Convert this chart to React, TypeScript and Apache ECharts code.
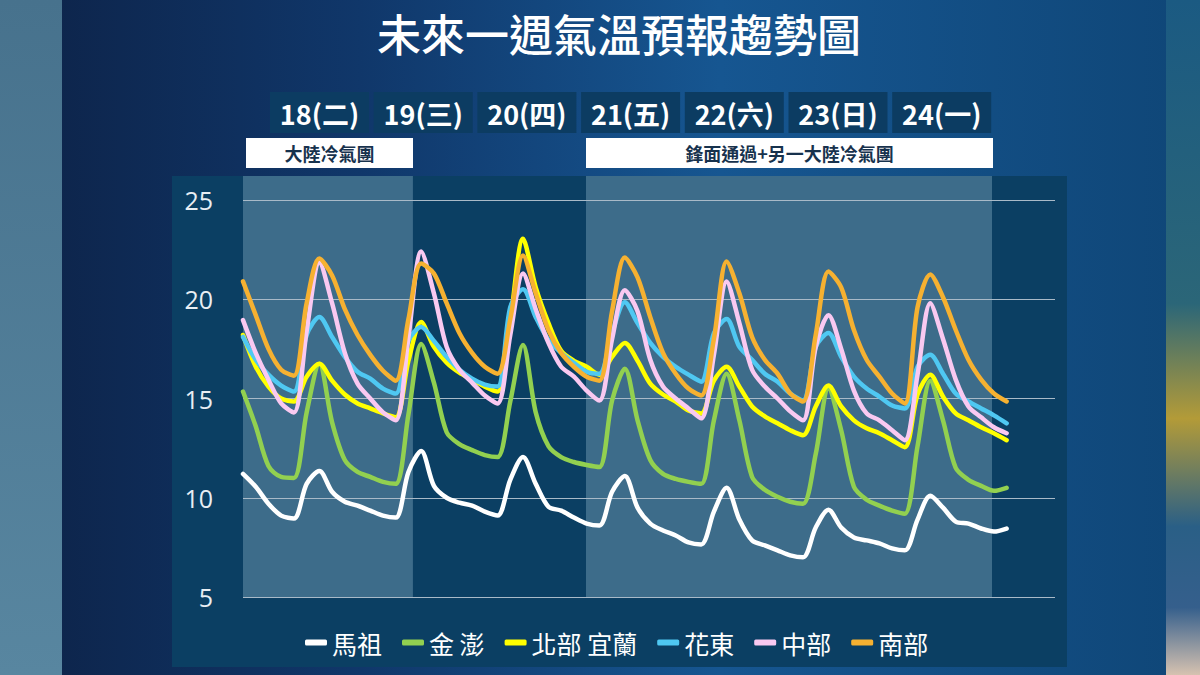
import * as echarts from "echarts";
import { useEffect, useRef } from "react";

// 3-hourly forecast steps, 61 points (18th evening .. 24th evening)
const maZu = [
  11.2, 10.55, 9.7, 9.1, 8.95, 10.7, 11.35, 10.3, 9.8, 9.6,
  9.35, 9.1, 9.0, 11.3, 12.35, 10.6, 10.0, 9.75, 9.6, 9.3,
  9.1, 10.9, 12.05, 10.7, 9.55, 9.35, 9.0, 8.7, 8.6, 10.3,
  11.1, 9.5, 8.7, 8.35, 8.1, 7.75, 7.65, 9.3, 10.5, 8.9,
  7.85, 7.6, 7.35, 7.1, 7.0, 8.5, 9.4, 8.5, 8.0, 7.85,
  7.7, 7.45, 7.35, 8.9, 10.1, 9.5, 8.8, 8.7, 8.45, 8.3, 8.45,
];
const kinPeng = [
  15.35, 13.6, 11.6, 11.05, 11.0, 14.3, 16.75, 13.8, 11.9, 11.3,
  11.05, 10.8, 10.7, 14.2, 17.75, 15.8, 13.3, 12.7, 12.4, 12.15,
  12.05, 14.85, 17.7, 14.3, 12.6, 12.05, 11.8, 11.65, 11.55, 14.9,
  16.5, 13.9, 11.9, 11.2, 10.95, 10.8, 10.7, 13.9, 16.25, 13.9,
  11.05, 10.4, 10.05, 9.8, 9.7, 12.2, 15.5, 13.4, 10.55, 9.9,
  9.6, 9.35, 9.2, 12.6, 15.9, 13.9, 11.5, 10.9, 10.6, 10.35, 10.5,
];
const north = [
  18.2, 16.6, 15.6, 15.0, 14.85, 16.1, 16.75, 15.9, 15.2, 14.75,
  14.5, 14.25, 14.05, 16.9, 18.85, 17.6, 16.8, 16.3, 15.95, 15.6,
  15.35, 18.9, 23.05, 20.6, 18.8, 17.4, 16.9, 16.6, 16.2, 17.1,
  17.8, 16.9, 15.75, 15.2, 14.85, 14.4, 14.25, 15.9, 16.6, 15.6,
  14.6, 14.1, 13.75, 13.4, 13.15, 14.6, 15.65, 14.6, 13.9, 13.5,
  13.25, 12.9, 12.55, 15.2, 16.2, 15.1, 14.25, 13.9, 13.55, 13.25, 12.9,
];
const east = [
  18.1, 16.95, 16.2, 15.65, 15.35, 18.2, 19.1, 18.1, 17.1, 16.35,
  16.0, 15.5, 15.25, 17.9, 18.6, 17.9, 17.1, 16.45, 16.0, 15.7,
  15.6, 19.6, 20.5, 19.1, 17.95, 17.3, 16.8, 16.35, 16.25, 18.3,
  19.85, 18.8, 17.8, 17.1, 16.6, 16.2, 15.85, 18.3, 19.0, 17.6,
  16.95, 16.25, 15.85, 15.25, 14.9, 17.6, 18.3, 17.1, 16.1, 15.5,
  15.1, 14.65, 14.5, 16.6, 17.2, 16.25, 15.25, 14.85, 14.5, 14.15, 13.75,
];
const central = [
  18.95, 17.3, 15.95, 14.75, 14.3, 18.4, 21.85, 19.8, 17.3, 15.75,
  15.0, 14.3, 13.9, 18.1, 22.4, 20.3, 17.6, 16.45, 15.8, 15.15,
  14.75, 18.2, 21.3, 19.5, 17.8, 16.6, 16.1, 15.4, 14.9, 18.0,
  20.45, 19.4, 16.95, 15.6, 15.0, 14.5, 14.0, 17.2, 20.9, 18.8,
  16.45, 15.6, 15.0, 14.35, 13.9, 17.6, 19.2, 17.5, 15.4, 14.25,
  13.9, 13.4, 12.9, 16.2, 19.8, 18.0, 15.95, 14.6, 14.05, 13.55, 13.25,
];
const south = [
  20.9, 19.2, 17.5, 16.45, 16.15, 19.8, 22.05, 21.2, 19.5, 18.2,
  17.2, 16.4, 15.9, 19.0, 21.8, 21.3, 19.8, 18.3, 17.3, 16.6,
  16.25, 19.0, 22.2, 20.3, 18.45, 17.3, 16.6, 16.1, 15.9, 19.4,
  22.1, 21.1, 19.1, 17.3, 16.25, 15.5, 15.15, 18.0, 21.9, 20.3,
  18.1, 16.95, 16.25, 15.25, 14.85, 18.2, 21.4, 20.6, 18.45, 16.95,
  16.1, 15.25, 14.75, 19.6, 21.25, 20.1, 18.45, 16.95, 15.95, 15.25, 14.85,
];

const seriesNames = ["馬祖", "金 澎", "北部 宜蘭", "花東", "中部", "南部"];
const seriesColors = ["#ffffff", "#92d050", "#ffff00", "#4fc8f2", "#f9c9f1", "#f6b131"];
const seriesData = [maZu, kinPeng, north, east, central, south];

const days = ["18(二)", "19(三)", "20(四)", "21(五)", "22(六)", "23(日)", "24(一)"];
// shaded periods, in forecast-step units
const bands = [
  [0, 13.35],
  [26.95, 58.85],
];
const notes = ["大陸冷氣團", "鋒面通過+另一大陸冷氣團"];
const yTicks = { min: 5, max: 25, interval: 5 };

const CJK = "'Noto Sans CJK TC', 'Noto Sans', sans-serif";

const App = () => {
  const chartRef = useRef<HTMLDivElement>(null);

  useEffect(() => {
    if (!chartRef.current) return;
    const myChart = echarts.init(chartRef.current, null, { renderer: "svg" });

    const dayBoxes: any[] = [];
    days.forEach((d, k) => {
      const x0 = 270 + k * 103.7;
      dayBoxes.push({
        type: "rect",
        z: -5,
        shape: { x: x0, y: 92, width: 99, height: 41 },
        style: { fill: "#0c3c62" },
      });
      dayBoxes.push({
        type: "text",
        z: 5,
        x: x0 + 49.5,
        y: 113,
        style: {
          text: d,
          fill: "#ffffff",
          fontSize: 27,
          fontWeight: "bold",
          fontFamily: CJK,
          textAlign: "center",
          textVerticalAlign: "middle",
        },
      });
    });

    const noteBoxes = [
      { x: 246, w: 167 },
      { x: 586, w: 407 },
    ];
    const noteEls: any[] = [];
    notes.forEach((n, k) => {
      const b = noteBoxes[k];
      noteEls.push({
        type: "rect",
        z: -5,
        shape: { x: b.x, y: 138, width: b.w, height: 30 },
        style: { fill: "#ffffff" },
      });
      noteEls.push({
        type: "text",
        z: 5,
        x: b.x + b.w / 2,
        y: 153,
        style: {
          text: n,
          fill: "#17324d",
          fontSize: 18,
          fontWeight: "bold",
          fontFamily: CJK,
          textAlign: "center",
          textVerticalAlign: "middle",
        },
      });
    });

    const option = {
      animation: false,
      backgroundColor: new echarts.graphic.LinearGradient(0, 0, 1, 0, [
        { offset: 0, color: "#0d2247" },
        { offset: 0.3, color: "#10376a" },
        { offset: 0.6, color: "#165691" },
        { offset: 1, color: "#0f4677" },
      ]),
      title: {
        text: "未來一週氣溫預報趨勢圖",
        left: 614,
        top: 3,
        textAlign: "center",
        textStyle: { color: "#ffffff", fontSize: 44, lineHeight: 50, fontWeight: 500, fontFamily: CJK },
      },
      graphic: [
        {
          type: "rect",
          z: -20,
          shape: { x: 0, y: 0, width: 62, height: 675 },
          style: {
            fill: new echarts.graphic.LinearGradient(0, 0, 0, 1, [
              { offset: 0, color: "#47728d" },
              { offset: 1, color: "#5886a0" },
            ]),
          },
        },
        {
          type: "rect",
          z: -20,
          shape: { x: 1166, y: 0, width: 34, height: 675 },
          style: {
            fill: new echarts.graphic.LinearGradient(0, 0, 0, 1, [
              { offset: 0, color: "#1b5a82" },
              { offset: 0.45, color: "#2b6678" },
              { offset: 0.62, color: "#b39b38" },
              { offset: 0.78, color: "#2a5f86" },
              { offset: 0.9, color: "#355f8c" },
              { offset: 1, color: "#d6c2b0" },
            ]),
          },
        },
        {
          type: "rect",
          z: -10,
          shape: { x: 172, y: 176, width: 895, height: 491 },
          style: { fill: "#0b3f63" },
        },
        ...dayBoxes,
        ...noteEls,
      ],
      legend: {
        data: seriesNames,
        left: 300,
        top: 625,
        icon: "roundRect",
        itemWidth: 22,
        itemHeight: 6,
        itemGap: 20,
        textStyle: { color: "#ffffff", fontSize: 25, fontFamily: CJK },
      },
      grid: [
        { left: 243, right: 145, top: 200, bottom: 78 },
        { left: 243, right: 145, top: 176, bottom: 78 },
      ],
      xAxis: [
        { type: "value", min: 0, max: 63.8, show: false, gridIndex: 0 },
        { type: "value", min: 0, max: 63.8, show: false, gridIndex: 1 },
      ],
      yAxis: [
        {
          type: "value",
          gridIndex: 0,
          min: yTicks.min,
          max: yTicks.max,
          interval: yTicks.interval,
          axisLine: { show: false },
          axisTick: { show: false },
          axisLabel: { color: "#e9eef3", fontSize: 25, margin: 30, fontFamily: "'Open Sans', sans-serif" },
          splitLine: { lineStyle: { color: "#a9bac8", width: 1.2 } },
        },
        { type: "value", gridIndex: 1, min: 0, max: 1, show: false },
      ],
      series: [
        {
          type: "line",
          xAxisIndex: 1,
          yAxisIndex: 1,
          data: [],
          silent: true,
          markArea: {
            silent: true,
            z: -1,
            itemStyle: { color: "#3d6c8a" },
            data: bands.map((b) => [{ xAxis: b[0] }, { xAxis: b[1] }]),
          },
        },
        ...seriesData.map((arr, s) => ({
          name: seriesNames[s],
          type: "line",
          data: arr.map((v, i) => [i, v]),
          showSymbol: false,
          smooth: 0.3,
          color: seriesColors[s],
          lineStyle: { width: 4.5, color: seriesColors[s], cap: "round", join: "round" },
          z: 3 + s,
        })),
      ],
    };

    myChart.setOption(option);

    return () => {
      myChart.dispose();
    };
  }, []);

  return <div ref={chartRef} style={{ position: "fixed", left: 0, top: 0, width: 1200, height: 675 }} />;
};

export default App;
